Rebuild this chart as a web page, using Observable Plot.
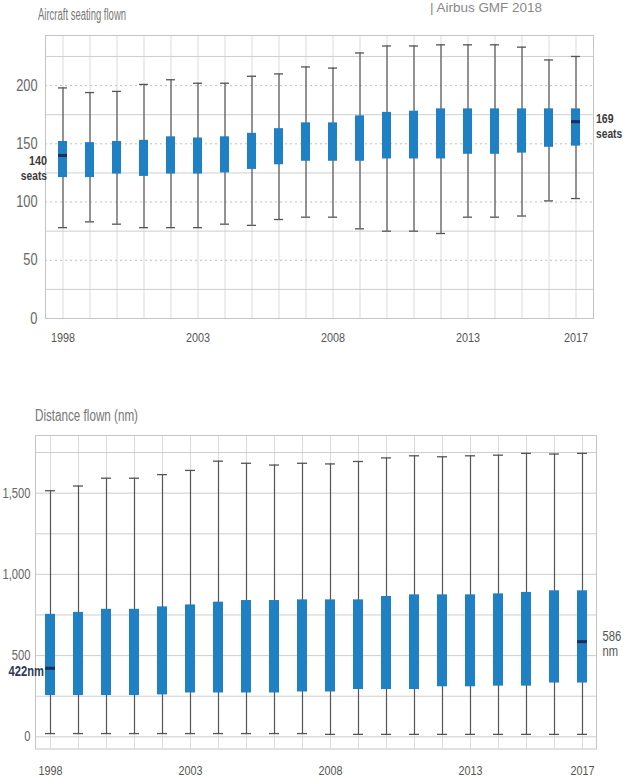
<!DOCTYPE html>
<html>
<head>
<meta charset="utf-8">
<script src="https://cdn.jsdelivr.net/npm/d3@7"></script>
<script src="https://cdn.jsdelivr.net/npm/@observablehq/plot@0.6"></script>
<style>
  html, body { margin: 0; padding: 0; background: #fff; }
  #page { position: relative; width: 630px; height: 779px; overflow: hidden; background: #fff;
          font-family: "Liberation Sans", Arial, sans-serif; }
  .abs { position: absolute; white-space: nowrap; transform-origin: left center; }
  .chart { position: absolute; left: 0; }
</style>
</head>
<body>
<div id="page">
  <div class="abs" id="source" style="left:430px; top:2px; font-size:12px; line-height:13px; color:#888;">| Airbus GMF 2018</div>
  <div class="abs" id="t1" style="left:38px; top:7px; font-size:16px; line-height:16px; color:#777;">Aircraft seating flown</div>
  <div class="abs" id="t2" style="left:35px; top:408px; font-size:16px; line-height:16px; color:#777;">Distance flown (nm)</div>
  <div class="chart" id="c1" style="top:0px;"></div>
  <div class="chart" id="c2" style="top:420px;"></div>
</div>
<script>
// ---------- data ----------
const years = [1998, 1999, 2000, 2001, 2002, 2003, 2004, 2005, 2006, 2007,
               2008, 2009, 2010, 2011, 2012, 2013, 2014, 2015, 2016, 2017];
const labelYears = [1998, 2003, 2008, 2013, 2017];

// Aircraft seating flown
const seatMin = [78, 83, 81, 78, 78, 78, 81, 80, 85, 87, 87, 77, 75, 75, 73, 87, 87, 88, 101, 103];
const seatQ1  = [121, 121, 124, 122, 124, 124, 125, 128, 132, 135, 135, 135, 137, 137, 137, 141, 141, 142, 147, 148];
const seatQ3  = [152, 151, 152, 153, 156, 155, 156, 159, 163, 168, 168, 174, 177, 178, 180, 180, 180, 180, 180, 180];
const seatMax = [198, 194, 195, 201, 205, 202, 202, 208, 210, 216, 215, 228, 234, 234, 235, 235, 235, 233, 222, 225];
const seatMedianYears = [1998, 2017];
const seatMedians = [140, 169];
const seatMedianLabels = ["140\nseats", "169\nseats"];
const seatTicks = [0, 50, 100, 150, 200];
const seatGrid = [25, 50, 75, 100, 125, 150, 175, 200, 225];

// Distance flown (nm)
const distMin = [20, 20, 20, 20, 20, 20, 20, 20, 20, 20, 15, 15, 15, 15, 15, 15, 15, 15, 15, 15];
const distQ1  = [254, 254, 254, 254, 258, 270, 270, 270, 270, 276, 276, 291, 291, 291, 308, 308, 312, 312, 331, 331];
const distQ3  = [754, 766, 785, 785, 800, 812, 829, 839, 839, 843, 843, 843, 864, 874, 874, 874, 880, 889, 899, 899];
const distMax = [1515, 1544, 1592, 1592, 1614, 1640, 1697, 1684, 1673, 1684, 1680, 1695, 1717, 1730, 1724, 1730, 1734, 1745, 1741, 1745];
const distMedianYears = [1998, 2017];
const distMedians = [422, 586];
const distMedianLabels = ["422nm", "586\nnm"];
const distTicks = [0, 500, 1000, 1500];
const distGrid = [0, 250, 500, 750, 1000, 1250, 1500, 1750];

// ---------- build tables ----------
const seats = years.map((y, i) => ({year: y, min: seatMin[i], q1: seatQ1[i], q3: seatQ3[i], max: seatMax[i]}));
const seatMed = seatMedianYears.map((y, i) => ({year: y, value: seatMedians[i], label: seatMedianLabels[i]}));
const dist = years.map((y, i) => ({year: y, min: distMin[i], q1: distQ1[i], q3: distQ3[i], max: distMax[i]}));
const distMed = distMedianYears.map((y, i) => ({year: y, value: distMedians[i], label: distMedianLabels[i]}));

const FONT = '"Liberation Sans", Arial, sans-serif';
const BLUE = "#1f80c4";
const WHISK = "#555";
const NAVY = "#1d2d5c";
const GRID = "#d2d2d2";
const yearFmt = d => `${d}`;

function boxMarks(data) {
  return [
    Plot.ruleX(data, {x: "year", y1: "min", y2: "max", stroke: WHISK, strokeWidth: 1.2}),
    Plot.tickY(data, {x: "year", y: "min", stroke: WHISK, strokeWidth: 1.3}),
    Plot.tickY(data, {x: "year", y: "max", stroke: WHISK, strokeWidth: 1.3}),
    Plot.barY(data, {x: "year", y1: "q1", y2: "q3", fill: BLUE})
  ];
}

// ---------- top chart ----------
const c1 = Plot.plot({
  width: 630, height: 350,
  marginLeft: 45, marginRight: 37, marginTop: 35, marginBottom: 32,
  style: {fontFamily: FONT, background: "transparent", overflow: "visible"},
  x: {type: "band", domain: years, paddingInner: 0.65, paddingOuter: 0.325},
  y: {domain: [0, 243]},
  marks: [
    Plot.gridX(years, {stroke: GRID, strokeOpacity: 1, strokeWidth: 0.8}),
    Plot.gridY(seatGrid.filter(v => v % 50 !== 0), {stroke: "#c8c8c8", strokeOpacity: 1, strokeWidth: 0.9}),
    Plot.gridY(seatGrid.filter(v => v % 50 === 0), {stroke: "#b8b8b8", strokeOpacity: 1, strokeWidth: 0.9, strokeDasharray: "2,3"}),
    Plot.frame({stroke: "#c4c4c4"}),
    ...boxMarks(seats),
    Plot.tickY(seatMed, {x: "year", y: "value", stroke: NAVY, strokeWidth: 3}),
    Plot.text(seatMed.slice(0, 1), {x: "year", y: "value", text: "label", textAnchor: "end", dx: -16, dy: 12,
      fontSize: 13.5, fontWeight: "bold", fill: "#3b3b3b", lineHeight: 1.12}),
    Plot.text(seatMed.slice(1), {x: "year", y: "value", text: "label", textAnchor: "start", dx: 20, dy: 4,
      fontSize: 13.5, fontWeight: "bold", fill: "#3b3b3b", lineHeight: 1.12}),
    Plot.axisY({ticks: seatTicks, tickSize: 0, tickPadding: 8, fontSize: 16, color: "#666", label: null}),
    Plot.axisX({ticks: labelYears, tickFormat: yearFmt, tickSize: 0, tickPadding: 14, fontSize: 13.5, color: "#555", label: null})
  ]
});
document.getElementById("c1").appendChild(c1);

// ---------- bottom chart ----------
const c2 = Plot.plot({
  width: 630, height: 359,
  marginLeft: 35, marginRight: 34, marginTop: 15, marginBottom: 30.5,
  style: {fontFamily: FONT, background: "transparent", overflow: "visible"},
  x: {type: "band", domain: years, paddingInner: 0.65, paddingOuter: 0.325},
  y: {domain: [-75, 1855]},
  marks: [
    Plot.gridX(years, {stroke: GRID, strokeOpacity: 1, strokeWidth: 0.8}),
    Plot.gridY(distGrid, {stroke: "#c8c8c8", strokeOpacity: 1, strokeWidth: 0.9}),
    Plot.frame({stroke: "#c4c4c4"}),
    ...boxMarks(dist),
    Plot.tickY(distMed, {x: "year", y: "value", stroke: NAVY, strokeWidth: 3}),
    Plot.text(distMed.slice(0, 1), {x: "year", y: "value", text: "label", textAnchor: "end", dx: -6.5, dy: 3,
      fontSize: 14, fontWeight: "bold", fill: "#2e3a58"}),
    Plot.text(distMed.slice(1), {x: "year", y: "value", text: "label", textAnchor: "start", dx: 20, dy: 2,
      fontSize: 14, fill: "#555", lineHeight: 1.1}),
    Plot.axisY({ticks: distTicks, tickFormat: d3.format(","), tickSize: 0, tickPadding: 5, fontSize: 14, color: "#666", label: null}),
    Plot.axisX({ticks: labelYears, tickFormat: yearFmt, tickSize: 0, tickPadding: 16, fontSize: 13.5, color: "#555", label: null})
  ]
});
document.getElementById("c2").appendChild(c2);

// narrow (condensed) type, as in the reference
function condense(svg, f, special) {
  svg.querySelectorAll("text, tspan").forEach(el => {
    if (el.children.length) return;
    const s = el.textContent;
    if (!s.trim()) return;
    const len = el.getComputedTextLength();
    const k = special[s] !== undefined ? special[s] : f;
    el.setAttribute("textLength", (len * k).toFixed(2));
    el.setAttribute("lengthAdjust", "spacingAndGlyphs");
  });
}
condense(c1, 0.8, {"seats": 0.76, "169": 0.78});
condense(c2, 0.8, {});

// condensed titles: scale horizontally to the widths seen in the reference
function fit(id, w) {
  const el = document.getElementById(id);
  const r = el.getBoundingClientRect().width;
  if (r > 0) el.style.transform = `scaleX(${w / r})`;
}
fit("t1", 88);
fit("t2", 103);
fit("source", 112);
</script>
</body>
</html>
